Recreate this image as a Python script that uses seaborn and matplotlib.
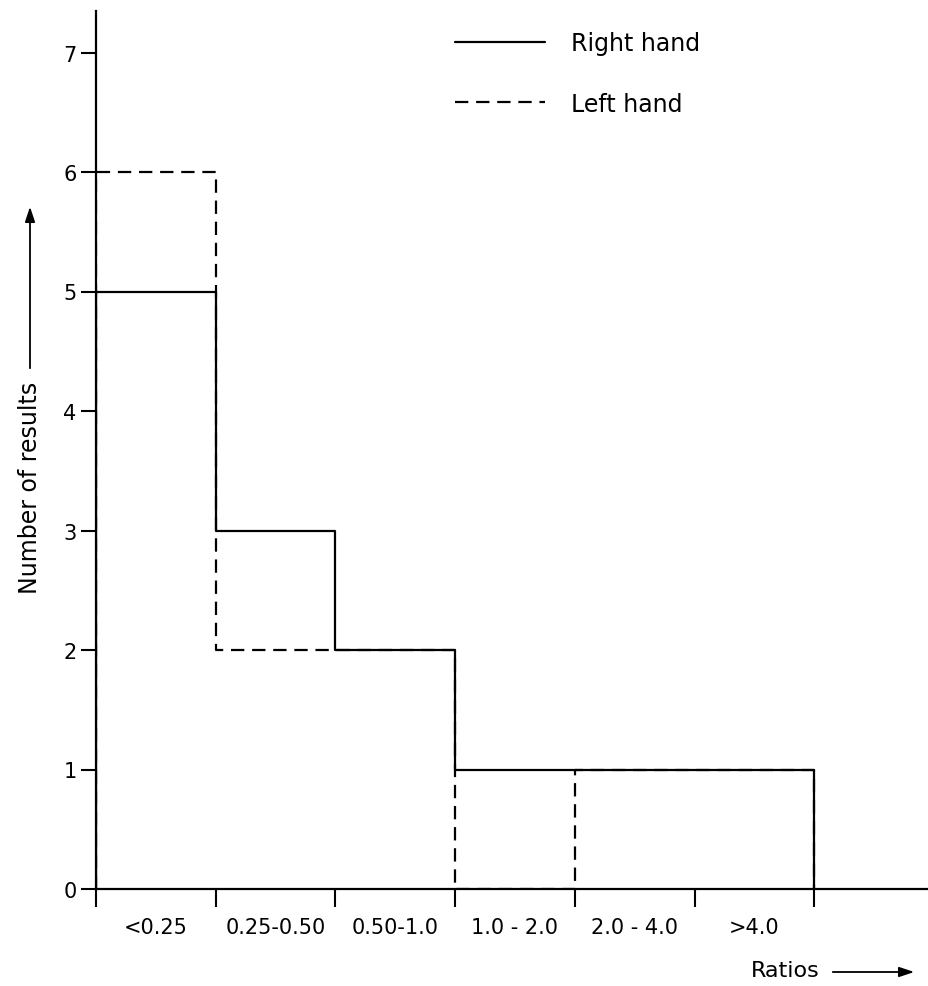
import matplotlib
matplotlib.use("Agg")
import matplotlib.pyplot as plt
import seaborn as sns
import pandas as pd
import numpy as np

# ---- data ----
categories = ["<0.25", "0.25-0.50", "0.50-1.0", "1.0 - 2.0", "2.0 - 4.0", ">4.0"]
right_hand = [5, 3, 2, 1, 1, 1]
left_hand = [6, 2, 2, 0, 1, 1]
series_names = ["Right hand", "Left hand"]
y_ticks = [0, 1, 2, 3, 4, 5, 6, 7]

sns.set_theme(style="white")
plt.rcParams['font.family'] = ['DejaVu Sans']
plt.rcParams.update({"text.color": "black", "axes.labelcolor": "black",
                     "xtick.color": "black", "ytick.color": "black"})

def outline(counts, name):
    n = len(counts)
    xs = [0] + list(range(n)) + [n]
    ys = [0] + list(counts) + [0]
    return pd.DataFrame({"x": xs, "y": ys, "hand": name})

df = pd.concat([outline(right_hand, series_names[0]),
                outline(left_hand, series_names[1])], ignore_index=True)

W, H = 929, 987
fig = plt.figure(figsize=(W / 100, H / 100), dpi=100)
x0, x_axis_y, top_y, right_x = 96, 890, 12, 929
unit_x, unit_y = 119.7, 119.5
ax = fig.add_axes([x0 / W, (H - x_axis_y) / H, (right_x - x0) / W, (x_axis_y - top_y) / H])

lw = 1.6
sns.lineplot(data=df, x="x", y="y", hue="hand", style="hand",
             palette={series_names[0]: "black", series_names[1]: "black"},
             dashes={series_names[0]: "", series_names[1]: (6, 3.5)},
             estimator=None, sort=False,
             drawstyle="steps-post", linewidth=lw, ax=ax, legend=True)

ax.set_xlim(0, (right_x - x0) / unit_x)
ax.set_ylim(0, (x_axis_y - top_y) / unit_y)

for s in ["top", "right"]:
    ax.spines[s].set_visible(False)
for s in ["left", "bottom"]:
    ax.spines[s].set_linewidth(1.6)
    ax.spines[s].set_color("black")

n = len(categories)
ax.set_xticks(np.arange(n + 1))
ax.set_xticklabels([])
ax.set_xticks(np.arange(n) + 0.5, minor=True)
ax.set_xticklabels(categories, minor=True, fontsize=15)
ax.tick_params(axis="x", which="major", direction="out", length=13, width=1.5,
               color="black", bottom=True)
ax.tick_params(axis="x", which="minor", length=0, pad=20, labelsize=15,
               labelcolor="black")

ax.set_yticks(y_ticks)
ax.set_yticklabels([str(v) for v in y_ticks], fontsize=15)
ax.tick_params(axis="y", direction="out", length=11, width=1.5, color="black",
               left=True, pad=3, labelcolor="black")
ax.set_xlabel("")
ax.set_ylabel("")
ax.grid(False)

handles, labels = ax.get_legend_handles_labels()
leg = ax.legend(handles, labels, loc="upper left",
                bbox_to_anchor=(455 / W, 1 - 32 / H), bbox_transform=fig.transFigure,
                frameon=False, fontsize=17, handlelength=3.8, handletextpad=1.1,
                labelspacing=1.55, borderpad=0, borderaxespad=0)
for lh in leg.get_lines():
    lh.set_linewidth(lw)
for t in leg.get_texts():
    t.set_color("black")

# axis titles with arrows
fig.text(30 / W, 1 - 488 / H, "Number of results", rotation=90,
         ha="center", va="center", fontsize=17)
fig.patches.append(matplotlib.patches.FancyArrowPatch(
    (30 / W, 1 - 372 / H), (30 / W, 1 - 205 / H), transform=fig.transFigure,
    arrowstyle="-|>,head_length=0.6,head_width=0.2", mutation_scale=15,
    linewidth=1.3, color="black"))

fig.text(820 / W, 1 - 971 / H, "Ratios", ha="right", va="center", fontsize=16)
fig.patches.append(matplotlib.patches.FancyArrowPatch(
    (830 / W, 1 - 973 / H), (917 / W, 1 - 973 / H), transform=fig.transFigure,
    arrowstyle="-|>,head_length=0.6,head_width=0.2", mutation_scale=15,
    linewidth=1.3, color="black"))

fig.savefig("out.png", dpi=100, facecolor="white")
